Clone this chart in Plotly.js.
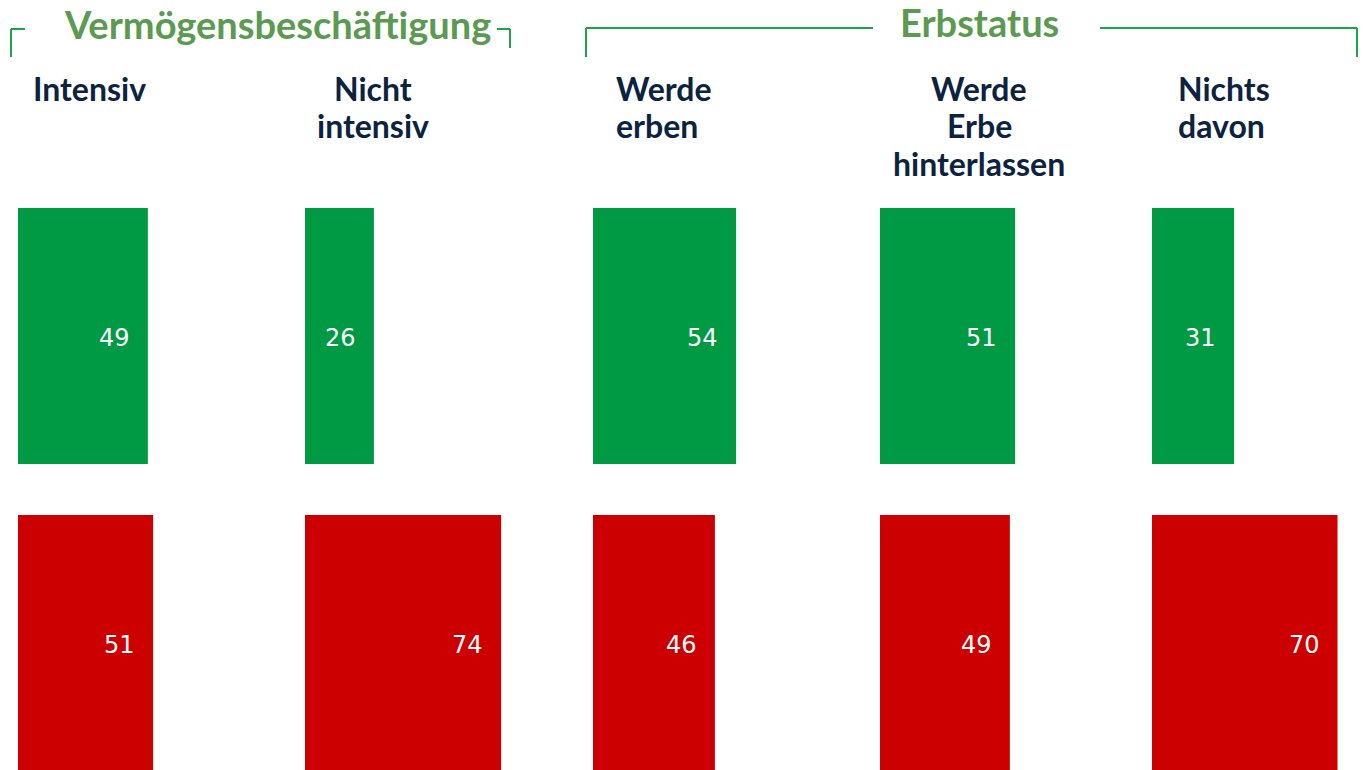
<!DOCTYPE html>
<html>
<head>
<meta charset="utf-8">
<script src="https://cdn.plot.ly/plotly-3.0.1.min.js"></script>
<style>html,body{margin:0;padding:0;background:#fff;}#chart{width:1363px;height:770px;}</style>
</head>
<body>
<div id="chart"></div>
<script>
// ---- data ----
const categories = ["Intensiv", "Nicht<br>intensiv", "Werde<br>erben", "Werde<br>Erbe<br>hinterlassen", "Nichts<br>davon"];
const greenValues = [49, 26, 54, 51, 31];
const redValues = [51, 74, 46, 49, 70];
const groupTitles = ["Vermögensbeschäftigung", "Erbstatus"];

// ---- layout constants (pixels) ----
const W = 1363, H = 770;
const pxPerUnit = 2.65;
const panelLeft = [18, 305, 593, 880, 1152];
const panelWidth = [265, 265, 265, 265, 211];
const plotTop = 182;
const labelX = [31, 373, 614, 979, 1176];
const labelAnchor = ["left", "center", "left", "center", "left"];
const labelFirstLineY = 88, labelLineGap = 37.5;
const GREEN = "#009a44", RED = "#cc0000", NAVY = "#0c2340", TITLEGREEN = "#5b9a51", LINEGREEN = "#1ea34c";

const px = x => x / W;
const py = y => 1 - y / H;

const traces = [];
const layout = {
  width: W, height: H,
  margin: {l: 0, r: 0, t: 0, b: 0},
  paper_bgcolor: "#ffffff", plot_bgcolor: "#ffffff",
  showlegend: false,
  annotations: [], shapes: []
};

categories.forEach((cat, i) => {
  const n = i === 0 ? "" : String(i + 1);
  const xa = "x" + n, ya = "y" + n;
  traces.push({
    type: "bar", orientation: "h",
    x: [greenValues[i], redValues[i]], y: [0, 1],
    width: 0.834,
    marker: {color: [GREEN, RED], line: {width: 0}},
    hoverinfo: "none",
    xaxis: xa, yaxis: ya
  });
  layout["xaxis" + n] = {
    domain: [px(panelLeft[i]), px(panelLeft[i] + panelWidth[i])],
    range: [0, panelWidth[i] / pxPerUnit],
    visible: false, fixedrange: true, anchor: ya
  };
  layout["yaxis" + n] = {
    domain: [0, py(plotTop)],
    range: [1 + (H - 643) / 307, -(336 - plotTop) / 307],
    visible: false, fixedrange: true, anchor: xa
  };
  [greenValues[i], redValues[i]].forEach((v, k) => {
    layout.annotations.push({
      xref: xa, yref: ya, x: v, y: k, xanchor: "right", yanchor: "middle",
      xshift: -16, yshift: -2, text: String(v), showarrow: false,
      font: {family: "DejaVu Sans", size: 24, color: "#ffffff"}
    });
  });
  cat.split("<br>").forEach((line, j) => {
    layout.annotations.push({
      xref: "paper", yref: "paper", x: px(labelX[i]), y: py(labelFirstLineY + j * labelLineGap),
      xanchor: labelAnchor[i], yanchor: "middle",
      text: "<b>" + line + "</b>", showarrow: false,
      font: {family: "Lato", size: 32, color: NAVY}
    });
  });
});

// group titles
layout.annotations.push({
  xref: "paper", yref: "paper", x: px(277), y: py(24), xanchor: "center", yanchor: "middle",
  text: "<b>" + groupTitles[0] + "</b>", showarrow: false,
  font: {family: "Lato", size: 38, color: TITLEGREEN}
});
layout.annotations.push({
  xref: "paper", yref: "paper", x: px(980), y: py(22), xanchor: "center", yanchor: "middle",
  text: "<b>" + groupTitles[1] + "</b>", showarrow: false,
  font: {family: "Lato", size: 38, color: TITLEGREEN}
});

// brackets
const seg = (x0, y0, x1, y1) => ({type: "line", xref: "paper", yref: "paper",
  x0: px(x0), y0: py(y0), x1: px(x1), y1: py(y1), line: {color: LINEGREEN, width: 2}});
layout.shapes.push(seg(11, 29, 25, 29), seg(11, 29, 11, 57));
layout.shapes.push(seg(497, 29, 510, 29), seg(510, 29, 510, 48));
layout.shapes.push(seg(586, 28, 873, 28), seg(586, 28, 586, 57));
layout.shapes.push(seg(1100, 28, 1357, 28), seg(1357, 28, 1357, 57));

Plotly.newPlot("chart", traces, layout, {displayModeBar: false, staticPlot: true});
</script>
</body>
</html>
